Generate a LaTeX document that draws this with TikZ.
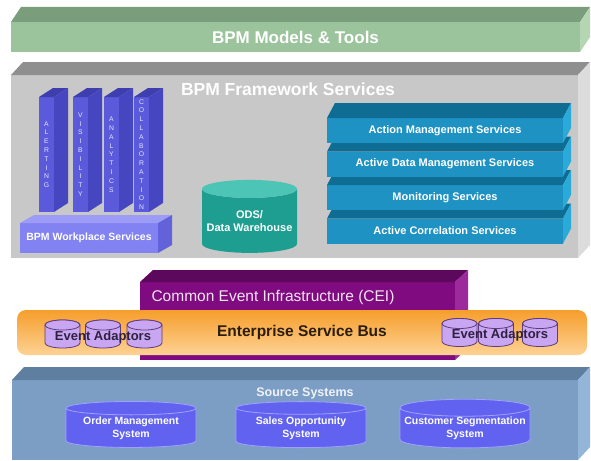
\documentclass[tikz,border=0pt]{standalone}
\usepackage{fontspec}
\setmainfont{Liberation Sans}
\usetikzlibrary{shapes.geometric, positioning}

\definecolor{greenF}{HTML}{9CC49C}
\definecolor{greenT}{HTML}{7A9E7C}
\definecolor{greenS}{HTML}{B5D5B3}
\definecolor{grayF}{HTML}{C8C8C8}
\definecolor{grayT}{HTML}{8F8F8F}
\definecolor{grayS}{HTML}{DCDCDC}
\definecolor{pillarF}{HTML}{5A5ADA}
\definecolor{pillarS}{HTML}{4646C0}
\definecolor{pillarT}{HTML}{3E3EAE}
\definecolor{pillarTxt}{HTML}{E4E4FF}
\definecolor{workF}{HTML}{8282F2}
\definecolor{workT}{HTML}{9C9CF6}
\definecolor{workS}{HTML}{6262DA}
\definecolor{odsF}{HTML}{1E9E90}
\definecolor{odsT}{HTML}{4CC4B6}
\definecolor{stackF}{HTML}{1E92C2}
\definecolor{stackT}{HTML}{0F6D93}
\definecolor{stackS}{HTML}{2AAAD8}
\definecolor{ceiF}{HTML}{800A80}
\definecolor{ceiT}{HTML}{5C085C}
\definecolor{ceiS}{HTML}{9C2A9C}
\definecolor{ceiTxt}{HTML}{F4E4F4}
\definecolor{esbT}{HTML}{F69E2C}
\definecolor{esbB}{HTML}{FDD294}
\definecolor{esbTxt}{HTML}{2B1D0A}
\definecolor{adaptF}{HTML}{C9A6F2}
\definecolor{adaptD}{HTML}{5E3A7E}
\definecolor{adaptTxt}{HTML}{2E2040}
\definecolor{srcF}{HTML}{7C9EC4}
\definecolor{srcT}{HTML}{5E7F9F}
\definecolor{srcS}{HTML}{93B5D8}
\definecolor{srcTxt}{HTML}{EEF2F8}
\definecolor{srcCyl}{HTML}{6262F0}
\definecolor{srcCylD}{HTML}{A0A0FF}

% top and right faces of a flat box node
\newcommand{\slabfaces}[5]{%
  \fill[#4] (#1.north west) -- ++(#2,-#3) -- ([shift={(#2,-#3)}]#1.north east) -- (#1.north east) -- cycle;
  \fill[#5] (#1.north east) -- ++(#2,-#3) -- ([shift={(#2,-#3)}]#1.south east) -- (#1.south east) -- cycle;
}
% small upright can for the event adaptors
\newcommand{\eventcan}[3]{%
  \coordinate (#1) at (#2,#3);
  \filldraw[adaptcan] ([shift={(-17.5,9)}]#1) arc[start angle=180, end angle=360, x radius=17.5pt, y radius=5pt]
    -- ([shift={(17.5,-9)}]#1) arc[start angle=0, end angle=180, x radius=17.5pt, y radius=5pt] -- cycle;
  \draw[adaptcan] ([shift={(0,-9)}]#1) ellipse[x radius=17.5pt, y radius=5pt];
}

\begin{document}
\begin{tikzpicture}[x=1pt, y=-1pt,
    face/.style={inner sep=0pt, outer sep=0pt, anchor=north west, text=white, font=\bfseries},
    pillar/.style={face, fill=pillarF, minimum width=15pt, minimum height=115pt, align=center,
      text=pillarTxt, font=\fontsize{6.8}{8.8}\selectfont},
    stackbox/.style={face, fill=stackF, minimum width=236pt, minimum height=25pt,
      font=\bfseries\fontsize{11}{13}\selectfont},
    can/.style={cylinder, shape border rotate=90, cylinder uses custom fill, inner sep=0pt,
      outer sep=0pt, align=center},
    adaptcan/.style={draw=adaptD, fill=adaptF, line width=0.8pt},
    source/.style={can, draw=srcCylD, line width=0.8pt, cylinder body fill=srcCyl,
      cylinder end fill=srcCyl, minimum width=130pt, minimum height=46pt, aspect=0.14,
      text=white, font=\bfseries\fontsize{10.5}{13}\selectfont}
  ]
  \useasboundingbox (0,0) rectangle (591,460);

  % models & tools
  \node[face, fill=greenF, minimum width=569pt, minimum height=30pt,
    font=\bfseries\fontsize{17}{20}\selectfont] (models) at (11,22) {BPM Models \& Tools};
  \slabfaces{models}{10}{15}{greenT}{greenS}

  % framework services
  \node[face, fill=grayF, minimum width=567pt, minimum height=183pt] (frame) at (11,75) {};
  \slabfaces{frame}{12}{13}{grayT}{grayS}
  \node[text=white, font=\bfseries\fontsize{17.5}{20}\selectfont] (frametitle) at (288,89) {BPM Framework Services};

  \node[pillar] (alert) at (39,97) {A\\L\\E\\R\\T\\I\\N\\G};
  \node[pillar] (visib) at (73,97) {V\\I\\S\\I\\B\\I\\L\\I\\T\\Y};
  \node[pillar] (analy) at (104,97) {A\\N\\A\\L\\Y\\T\\I\\C\\S};
  \node[pillar] (collab) at (134,97) {C\\O\\L\\L\\A\\B\\O\\R\\A\\T\\I\\O\\N};
  \foreach \p in {alert, visib, analy, collab} {\slabfaces{\p}{14}{9}{pillarT}{pillarS}}

  \node[face, fill=workF, minimum width=138pt, minimum height=30pt,
    font=\bfseries\fontsize{10.5}{12}\selectfont] (workplace) at (20,223) {BPM Workplace Services};
  \slabfaces{workplace}{14}{8}{workT}{workS}

  \node[can, cylinder body fill=odsF, cylinder end fill=odsT, minimum width=95pt, minimum height=73pt,
    aspect=0.21, text=white, font=\bfseries\fontsize{11}{13}\selectfont] (ods) at (249.5,221) {ODS/\\Data Warehouse};

  \foreach \name/\y/\txt in {corr/218.5/Active Correlation Services, mon/185/Monitoring Services,
      adm/151.5/Active Data Management Services, action/118/Action Management Services} {
    \node[stackbox] (\name) at (327,\y) {\txt};
    \slabfaces{\name}{8}{15}{stackT}{stackS}
  }

  % CEI and bus
  \node[face, fill=ceiF, minimum width=315pt, minimum height=78pt] (cei) at (140,282) {};
  \slabfaces{cei}{13}{12}{ceiT}{ceiS}
  \node[anchor=west, text=ceiTxt, font=\fontsize{15.5}{18}\selectfont] (ceilabel) at (148,297) {Common Event Infrastructure (CEI)};

  \node[rounded corners=9pt, top color=esbT, bottom color=esbB, minimum width=570pt, minimum height=45pt,
    inner sep=0pt, text=esbTxt, font=\bfseries\fontsize{15.5}{18}\selectfont] (esb) at (302,332.5) {Enterprise Service Bus};

  \eventcan{ea1}{62.5}{334}
  \eventcan{ea2}{103}{334}
  \eventcan{ea3}{144.5}{334}
  \eventcan{eb1}{459.5}{332.5}
  \eventcan{eb2}{496}{332.5}
  \eventcan{eb3}{540}{332.5}
  \node[text=adaptTxt, font=\bfseries\fontsize{13}{15}\selectfont] (ealabel) at (103,337) {Event Adaptors};
  \node[text=adaptTxt, font=\bfseries\fontsize{13}{15}\selectfont] (eblabel) at (500,335) {Event Adaptors};

  % source systems
  \node[face, fill=srcF, minimum width=566pt, minimum height=80pt] (source) at (12,380) {};
  \slabfaces{source}{12}{13}{srcT}{srcS}
  \node[text=srcTxt, font=\bfseries\fontsize{12.5}{15}\selectfont] (sourcetitle) at (305,393) {Source Systems};

  \node[source] (order) at (131,428) {Order Management\\System};
  \node[source, right=40pt of order] (sales) {Sales Opportunity\\System};
  \node[source, right=34pt of sales] (customer) {Customer Segmentation\\System};
\end{tikzpicture}
\end{document}
